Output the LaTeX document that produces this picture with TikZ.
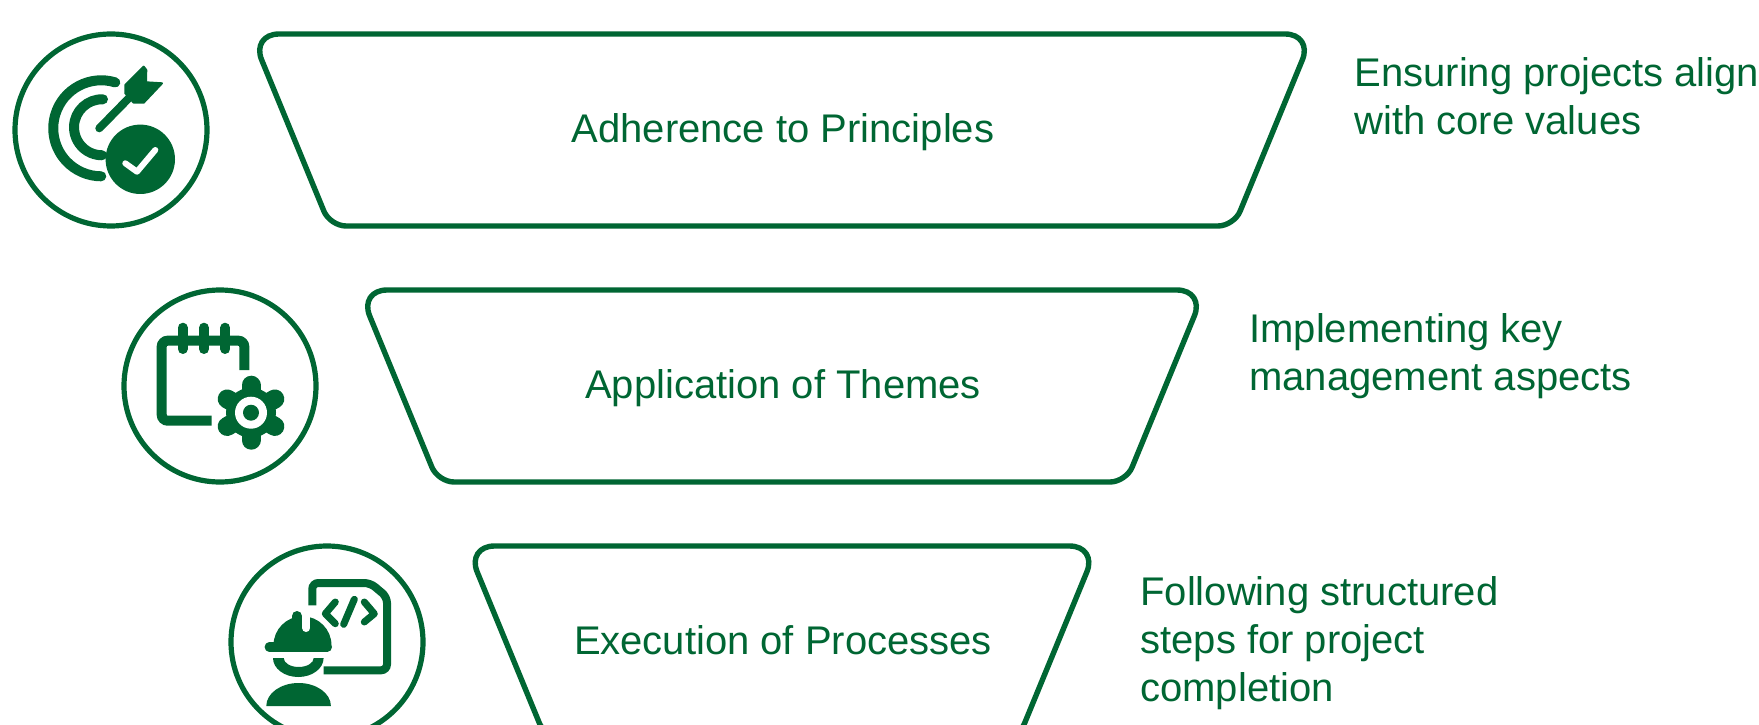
\documentclass[tikz,border=0pt]{standalone}
\usepackage{fontspec}
\setmainfont{Liberation Sans}
\definecolor{leaf}{HTML}{006633}
\tikzset{
  funnel/.style={draw=leaf,line width=2.7pt},
  title/.style={inner sep=0pt,outer sep=0pt,text=leaf,text height=16.8pt,text depth=4.2pt,font=\fontsize{20}{24}\selectfont},
  ring/.style={circle,draw=leaf,line width=2.6pt,minimum size=96pt,inner sep=0pt,outer sep=0pt},
  note/.style={align=left,anchor=west,inner sep=0pt,outer sep=0pt,text=leaf,font=\fontsize{20}{24}\selectfont},
  stroke/.style={draw=leaf,line width=#1,line cap=round,line join=round},
  flat/.style={draw=leaf,line width=5pt,rounded corners=3pt}
}
\begin{document}
\begin{tikzpicture}[x=0.5pt,y=0.5pt]
\clip (0,0) rectangle (1759,724);

\node[title] (adhere) at (783,594) {Adherence to Principles};
\node[title] (apply) at (783,338) {Application of Themes};
\node[title] (execute) at (783,82) {Execution of Processes};

\draw[funnel] (adhere) ++(-1,96) [rounded corners=14pt] -- ++(531,0) [rounded corners=8pt] -- ++(-79,-192) -- ++(-904,0) [rounded corners=14pt] -- ++(-79,192) -- cycle;
\draw[funnel] (apply) ++(-1,96) [rounded corners=14pt] -- ++(423,0) [rounded corners=8pt] -- ++(-79,-192) -- ++(-688,0) [rounded corners=14pt] -- ++(-79,192) -- cycle;
\draw[funnel] (execute) ++(-1,96) [rounded corners=14pt] -- ++(315.5,0) [rounded corners=8pt] -- ++(-79,-192) -- ++(-473,0) [rounded corners=14pt] -- ++(-79,192) -- cycle;

\node[ring] (goal) at (111,594) {};
\node[ring] (plan) at (220,338) {};
\node[ring] (worker) at (327,82) {};

\node[note] (adheretxt) at (1354.5,628) {Ensuring projects align\\with core values};
\node[note] (applytxt) at (1249.4,367.6) {Implementing key\\management aspects};
\node[note] (executetxt) at (1140.4,80.6) {Following structured\\steps for project\\completion};

%target
\begin{scope}[shift={(goal.center)}]
\draw[stroke=5pt] (4.3,47.6) arc[start angle=73,end angle=270,radius=48];
\draw[stroke=5pt] (-8,30.7) arc[start angle=88,end angle=270,radius=28];
\draw[stroke=4pt] (-11.7,1.7) -- (17.7,31.7);
\fill[leaf,draw=leaf,line width=1pt,line join=round] (14.3,45) -- (32.7,63.3) -- (35.3,60) -- (35,47.7) -- (51,46.7)
  -- (32.7,27.3) -- (22.7,27.3) -- (14.3,36.7) -- cycle;
\fill[leaf] (29.3,-29.3) circle[radius=34.7];
\draw[stroke=3pt,draw=white] (14.3,-33.3) -- (26,-41.7) -- (44.3,-20);
\end{scope}

%calendar
\begin{scope}[shift={(plan.center)}]
\draw[flat] (24.3,16) -- (24.3,45.3) -- (-58.3,45.3) -- (-58.3,-34.7) -- (-8.3,-34.7);
\foreach \x in {-37.3,-16,5.3}
  \draw[stroke=5pt] (\x,58.3) -- (\x,37);
\foreach \a in {30,90,...,330}
  \draw[stroke=9.5pt] (31,-26.7) -- ++(\a:27.5);
\fill[leaf] (31,-26.7) circle[radius=25];
\fill[white] (31,-26.7) circle[radius=16];
\fill[leaf] (31,-26.7) circle[radius=8];
\end{scope}

%engineer
\begin{scope}[shift={(worker.center)}]
\draw[flat,line width=4pt] (-14.7,36.7) -- (-14.7,59) -- (43.3,59) -- (60,45) -- (60,-28.3) -- (-3.3,-28.3);
\draw[stroke=3.5pt] (8.3,40) -- (-1.7,28.3) -- (8.3,18.3);
\draw[stroke=3.5pt] (27.3,42.7) -- (16.7,17.7);
\draw[stroke=3.5pt] (37.3,40) -- (47.3,28.3) -- (37.3,20);
\fill[leaf] (-53.5,-3.3) arc[start angle=180,end angle=0,radius=29] -- cycle;
\draw[stroke=5pt] (-30,26) -- (-30,10);
\draw[stroke=4pt,draw=white] (-20.7,32) -- (-20.7,14);
\draw[stroke=4.7pt] (-57.7,-5) -- (0.3,-5);
\fill[leaf] (-54,-16) arc[start angle=180,end angle=360,x radius=25.3,y radius=19] -- (-13.3,-16)
  arc[start angle=0,end angle=-180,x radius=15,y radius=9] -- cycle;
\fill[leaf] (-60.7,-64) arc[start angle=180,end angle=0,x radius=32.3,y radius=23] -- cycle;
\end{scope}
\end{tikzpicture}
\end{document}
